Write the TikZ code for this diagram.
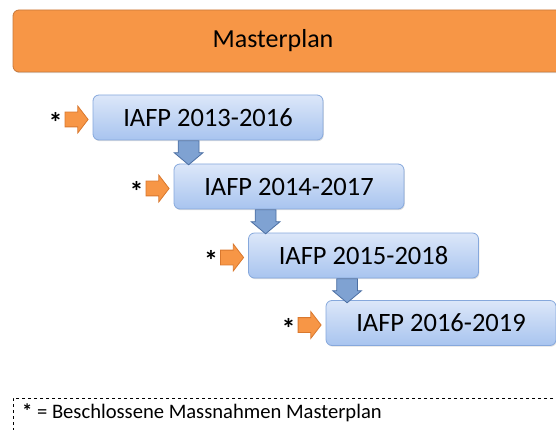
\documentclass[tikz,border=0pt]{standalone}
\usepackage{fontspec}
\setmainfont{Carlito}
\usetikzlibrary{shapes.arrows, positioning, calc, shadows}
\definecolor{planfill}{HTML}{F79646}
\definecolor{planline}{HTML}{C7783A}
\definecolor{phasetop}{HTML}{DCE7F9}
\definecolor{phasebot}{HTML}{A8C4EF}
\definecolor{phaseline}{HTML}{86A8DC}
\definecolor{downfill}{HTML}{7FA2D2}
\definecolor{downline}{HTML}{4C6FA3}
\definecolor{feedline}{HTML}{D9782E}
\tikzset{
    plan/.style={rectangle, rounded corners=6pt, draw=planline, fill=planfill, thick, minimum width=590pt, minimum height=62pt, inner sep=0pt,
        drop shadow={opacity=0.25, shadow xshift=0.8pt, shadow yshift=-1.2pt}},
    phase/.style={rectangle, rounded corners=6pt, draw=phaseline, thick, top color=phasetop, bottom color=phasebot,
        minimum width=230pt, minimum height=45pt, inner sep=0pt, font=\fontsize{26.5}{30}\selectfont,
        drop shadow={opacity=0.25, shadow xshift=0.8pt, shadow yshift=-1.2pt}},
    feed/.style={single arrow, draw=feedline, fill=planfill, thick, minimum height=23pt, minimum width=26pt,
        single arrow head extend=6pt, single arrow tip angle=105, inner xsep=0pt, inner ysep=7pt},
    down/.style={single arrow, shape border rotate=270, draw=downline, fill=downfill, thick, minimum height=24pt,
        minimum width=28pt, single arrow head extend=4pt, single arrow tip angle=100, inner xsep=10pt, inner ysep=0pt},
    starmark/.style={inner sep=0pt, font=\bfseries\fontsize{28}{28}\selectfont},
    legendbox/.style={draw, dashed, thin}
}
\begin{document}
\begin{tikzpicture}[x=1pt, y=-1pt]
    \useasboundingbox (0,0) rectangle (556,430);
    \begin{scope}
    \clip (0,0) rectangle (556,430);

    % Masterplan
    \node[plan] (mp) at (308,41) {};
    \node[font=\fontsize{26}{30}\selectfont] (mptext) at (273,41) {Masterplan};

    % Phases
    \node[phase] (b1) at (208,117.5) {IAFP 2013-2016};
    \node[phase] (b2) at (289,186.5) {IAFP 2014-2017};
    \node[phase] (b3) at (363.5,255.5) {IAFP 2015-2018};
    \node[phase] (b4) at (441,323) {IAFP 2016-2019};

    % Feeding arrows and marks
    \foreach \b in {b1,b2,b3,b4} {
        \node[feed, left=4pt of \b, yshift=-2pt] (f\b) {};
        \node[starmark, left=2pt of f\b, yshift=-3pt] (s\b) {*};
    }

    % Downward arrows
    \node[down, anchor=tail] (d1) at ([xshift=96pt]b1.south west) {};
    \node[down, anchor=tail] (d2) at ([xshift=92pt]b2.south west) {};
    \node[down, anchor=tail] (d3) at ([xshift=99pt]b3.south west) {};

    % Legend
    \node[legendbox, anchor=north west, minimum width=600pt, minimum height=60pt] (lg) at (13,398) {};
    \node[anchor=west, inner sep=0pt, font=\fontsize{20.6}{24}\selectfont] (lgtext) at (22,413) {\textbf{*} = Beschlossene Massnahmen Masterplan};
    \end{scope}
\end{tikzpicture}
\end{document}
